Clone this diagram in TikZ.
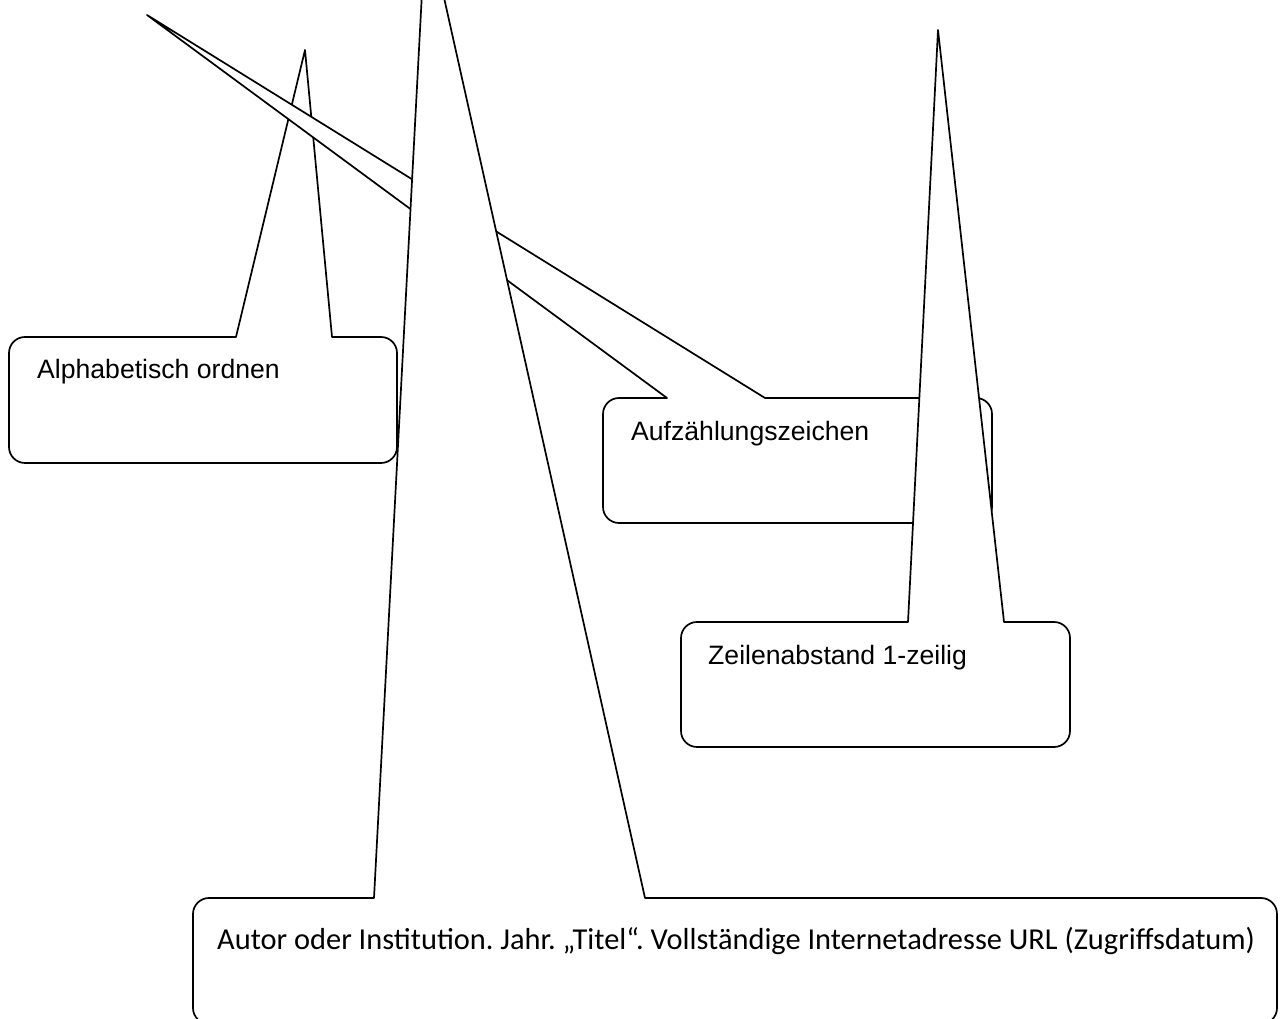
\documentclass[tikz,border=0pt]{standalone}
\usepackage{fontspec}
\setmainfont{Liberation Sans}
\newfontfamily\calibri{Carlito}
\frenchspacing
\tikzset{
  callout/.style={draw=black, fill=white, line width=1.7pt, line join=round},
  arialtext/.style={anchor=base west, inner sep=0pt, font=\fontsize{26.6}{30}\selectfont},
  calibritext/.style={anchor=base west, inner sep=0pt, font=\calibri\fontsize{30.4}{34}\selectfont},
}
% \mycallout{L}{R}{Top}{Bottom}{base1}{base2}{tipx}{tipy}  (y upward, px units)
\newcommand{\mycallout}[8]{%
  \draw[callout] (#5,#3) -- (#7,#8) -- (#6,#3) -- ({#2-16},#3)
    arc[start angle=90,end angle=0,radius=16] -- (#2,{#4+16})
    arc[start angle=0,end angle=-90,radius=16] -- ({#1+16},#4)
    arc[start angle=270,end angle=180,radius=16] -- (#1,{#3-16})
    arc[start angle=180,end angle=90,radius=16] -- cycle;}
\begin{document}
\begin{tikzpicture}[x=1pt,y=1pt]
\useasboundingbox (0,0) rectangle (1284,1019);
\fill[white] (0,0) rectangle (1284,1019);
% Alphabetisch ordnen
\mycallout{9}{397}{682}{556}{236}{332}{305}{969}
\node[arialtext] (alpha) at (37,640) {Alphabetisch ordnen};
% Aufzaehlungszeichen
\mycallout{603}{992}{621}{496}{667}{765}{147}{1004}
\node[arialtext] (aufz) at (631,578) {Aufzählungszeichen};
% Zeilenabstand
\mycallout{681}{1070}{397}{272}{908}{1004}{938}{989}
\node[arialtext] (zeile) at (708,354) {Zeilenabstand 1-zeilig};
% Autor
\mycallout{193}{1277}{121}{-5}{374}{645}{426}{1102}
\node[calibritext] (autor) at (217,69) {Autor oder Institution. Jahr. „Titel“. Vollständige Internetadresse URL (Zugriffsdatum)};
\end{tikzpicture}
\end{document}
